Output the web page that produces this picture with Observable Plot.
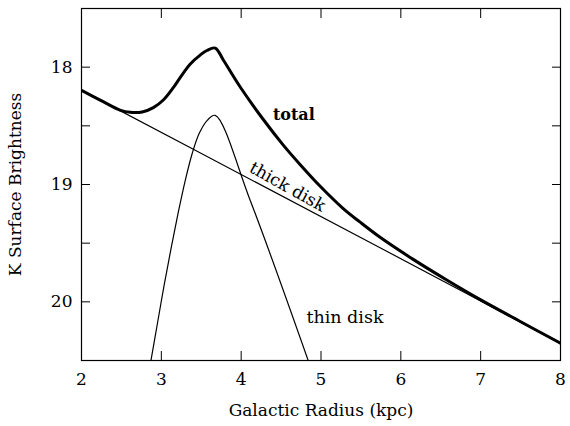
<!DOCTYPE html>
<html><head><meta charset="utf-8">
<script src="https://cdn.jsdelivr.net/npm/d3@7"></script>
<script src="https://cdn.jsdelivr.net/npm/@observablehq/plot@0.6"></script>
<style>body{margin:0;background:#fff} svg{display:block}</style>
</head><body><div id="chart"></div>
<script>
// Galactic radius (kpc) and K surface brightness (mag)
const totalRadius = [2.0, 2.24, 2.49, 2.61, 2.76, 2.9, 3.025, 3.15, 3.24, 3.36, 3.49, 3.57, 3.675, 3.78, 3.99, 4.275, 4.525, 4.74, 4.99, 5.275, 5.49, 5.74, 6.15, 6.575, 6.99, 7.49, 8.0];
const totalMag    = [18.198, 18.283, 18.368, 18.385, 18.382, 18.345, 18.28, 18.175, 18.085, 17.975, 17.895, 17.858, 17.837, 17.943, 18.171, 18.444, 18.662, 18.831, 19.015, 19.203, 19.321, 19.45, 19.636, 19.814, 19.979, 20.165, 20.353];

const thickRadius = [2.0, 3.49, 5.74, 7.0, 8.0];
const thickMag    = [18.198, 18.732, 19.539, 19.993, 20.353];

const thinRadius = [2.871, 2.95, 3.0375, 3.125, 3.2125, 3.3, 3.3875, 3.475, 3.575, 3.675, 4.1125, 4.8375];
const thinMag    = [20.496, 20.189, 19.849, 19.534, 19.236, 18.964, 18.734, 18.564, 18.453, 18.411, 19.134, 20.496];

const xTicks = [2, 3, 4, 5, 6, 7, 8];
const yTicks = [18, 18.5, 19, 19.5, 20];

const labelText   = ["total", "thick disk", "thin disk"];
const labelRadius = [4.66, 4.58, 5.3];
const labelMag    = [18.41, 19.02, 20.13];

const xTitle = "Galactic Radius (kpc)";
const yTitle = "K Surface Brightness";

const toRows = (xs, ys) => xs.map((x, i) => ({x, y: ys[i]}));
const total = toRows(totalRadius, totalMag);
const thick = toRows(thickRadius, thickMag);
const thin = toRows(thinRadius, thinMag);
const labels = labelText.map((t, i) => ({t, x: labelRadius[i], y: labelMag[i]}));

const font = "DejaVu Serif";
const chart = Plot.plot({
  width: 570, height: 426,
  marginLeft: 81, marginRight: 10, marginTop: 8, marginBottom: 66,
  style: {fontFamily: font, background: "#fff", color: "#000"},
  x: {domain: [2, 8]},
  y: {domain: [17.5, 20.5], reverse: true},
  marks: [
    Plot.axisX(xTicks, {anchor: "bottom", tickSize: -9, tickPadding: 21, fontSize: 17, label: null, tickFormat: d => String(d)}),
    Plot.axisX(xTicks, {anchor: "top", tickSize: -9, tickFormat: () => "", label: null}),
    Plot.axisY(yTicks, {anchor: "left", tickSize: -9, tickPadding: 18, fontSize: 17, label: null, tickFormat: d => Number.isInteger(d) ? String(d) : ""}),
    Plot.axisY(yTicks, {anchor: "right", tickSize: -9, tickFormat: () => "", label: null}),
    Plot.frame({stroke: "#000", strokeWidth: 1.2}),
    Plot.line(thick, {x: "x", y: "y", stroke: "#000", strokeWidth: 1.2, clip: true}),
    Plot.line(thin, {x: "x", y: "y", stroke: "#000", strokeWidth: 1.2, curve: "catmull-rom", clip: true}),
    Plot.line(total, {x: "x", y: "y", stroke: "#000", strokeWidth: 3, curve: "catmull-rom", clip: true}),
    Plot.text(labels.filter(d => d.t === "total"), {x: "x", y: "y", text: "t", fontSize: 16, fontWeight: "bold", fill: "#000"}),
    Plot.text(labels.filter(d => d.t === "thick disk"), {x: "x", y: "y", text: "t", fontSize: 17, rotate: 29, fill: "#000"}),
    Plot.text(labels.filter(d => d.t === "thin disk"), {x: "x", y: "y", text: "t", fontSize: 17.5, fill: "#000"}),
    Plot.text([xTitle], {frameAnchor: "bottom", textAnchor: "middle", lineAnchor: "middle", dy: 50, fontSize: 17, fill: "#000"}),
    Plot.text([yTitle], {frameAnchor: "left", textAnchor: "middle", lineAnchor: "middle", rotate: -90, dx: -66, fontSize: 17, fill: "#000"})
  ]
});
document.getElementById("chart").append(chart);
</script>
</body></html>
